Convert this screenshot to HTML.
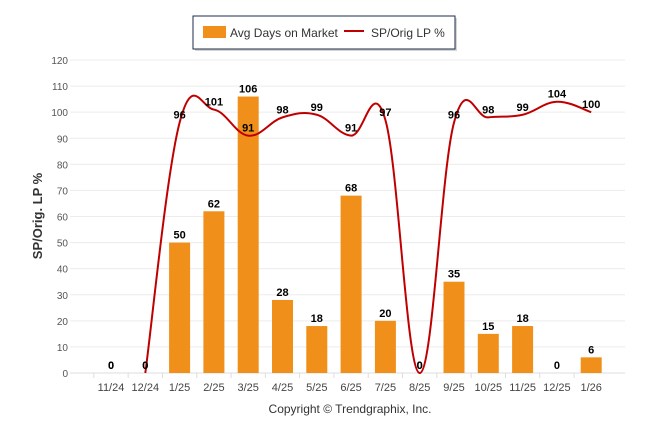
<!DOCTYPE html>
<html><head><meta charset="utf-8"><style>
body{margin:0;background:#fff;font-family:"Liberation Sans",sans-serif}
svg text{font-family:"Liberation Sans",sans-serif}
</style></head><body>
<svg id="c" width="646" height="434">
<g>
<rect x="195" y="18" width="262" height="33" fill="#888" opacity="0.35"/>
<rect x="193" y="16" width="262" height="33" fill="#fff" stroke="#1c2b4a" stroke-width="1"/>
<rect x="203" y="26" width="23" height="12" fill="#f0901a"/>
<text x="230" y="37" font-size="12" fill="#333">Avg Days on Market</text>
<line x1="344" y1="31" x2="364" y2="31" stroke="#c00000" stroke-width="2"/>
<text x="371" y="37" font-size="12" fill="#333">SP/Orig LP %</text>
</g>
<g id="grid"></g><g id="bars"></g><g id="line"></g><g id="labels"></g>
<text transform="translate(42,216) rotate(-90)" text-anchor="middle" font-size="13" font-weight="bold" fill="#333">SP/Orig. LP %</text>
<text x="350" y="413" text-anchor="middle" font-size="12" fill="#333">Copyright © Trendgraphix, Inc.</text>
</svg>
<script>
const categories=["11/24","12/24","1/25","2/25","3/25","4/25","5/25","6/25","7/25","8/25","9/25","10/25","11/25","12/25","1/26"];
const daysOnMarket=[0,0,50,62,106,28,18,68,20,0,35,15,18,0,6];
const spOrigLP=[0,0,96,101,91,98,99,91,97,0,96,98,99,104,100];
const yTicks=[0,10,20,30,40,50,60,70,80,90,100,110,120];
const NS="http://www.w3.org/2000/svg";
function X(i){return 111+34.3*i;}
function Y(v){return 373-v*313/120;}
function mk(t,a,p){const e=document.createElementNS(NS,t);for(const k in a)e.setAttribute(k,a[k]);document.getElementById(p).appendChild(e);return e;}
yTicks.forEach(v=>{
 const l=mk('line',{x1:70,x2:625,y1:Y(v),y2:Y(v),stroke:v===0?'#ddd':'#ececec','stroke-width':1},'grid');
 
 
 const t=mk('text',{x:68,y:Y(v)+4,'text-anchor':'end','font-size':10,fill:'#555'},'grid');t.textContent=v;
 
 
});
categories.forEach((c,i)=>{
 const tk=mk('line',{x1:X(i)-17.15,x2:X(i)-17.15,y1:373,y2:378,stroke:'#ddd'},'grid');
 
 
 const t=mk('text',{x:X(i),y:391,'text-anchor':'middle','font-size':11,fill:'#444'},'grid');t.textContent=c;
 
 
 const v=daysOnMarket[i];
 if(v>0){const b=mk('rect',{x:X(i)-10.5,y:Y(v),width:21,height:373-Y(v),fill:'#f0901a'},'bars');
  
  }
 const bl=mk('text',{x:X(i),y:Y(v)-4,'text-anchor':'middle','font-size':11,'font-weight':'bold',fill:'#000'},'labels');bl.textContent=v;
 
 
 const lv=spOrigLP[i];
 const ll=mk('text',{x:X(i),y:Y(lv)-4,'text-anchor':'middle','font-size':11,'font-weight':'bold',fill:'#000'},'labels');ll.textContent=lv;
 
 
});
const pts=spOrigLP.map((v,i)=>[X(i),Y(v)]).slice(1);
let d='M'+pts[0][0]+','+pts[0][1];
for(let i=0;i<pts.length-1;i++){
 const p0=pts[Math.max(0,i-1)],p1=pts[i],p2=pts[i+1],p3=pts[Math.min(pts.length-1,i+2)];
 const k=0.19;
 d+=' C'+(p1[0]+(p2[0]-p0[0])*k)+','+(p1[1]+(p2[1]-p0[1])*k)+' '+(p2[0]-(p3[0]-p1[0])*k)+','+(p2[1]-(p3[1]-p1[1])*k)+' '+p2[0]+','+p2[1];
}
const path=mk('path',{d:d,fill:'none',stroke:'#c00000','stroke-width':2},'line');


</script>
</body></html>
